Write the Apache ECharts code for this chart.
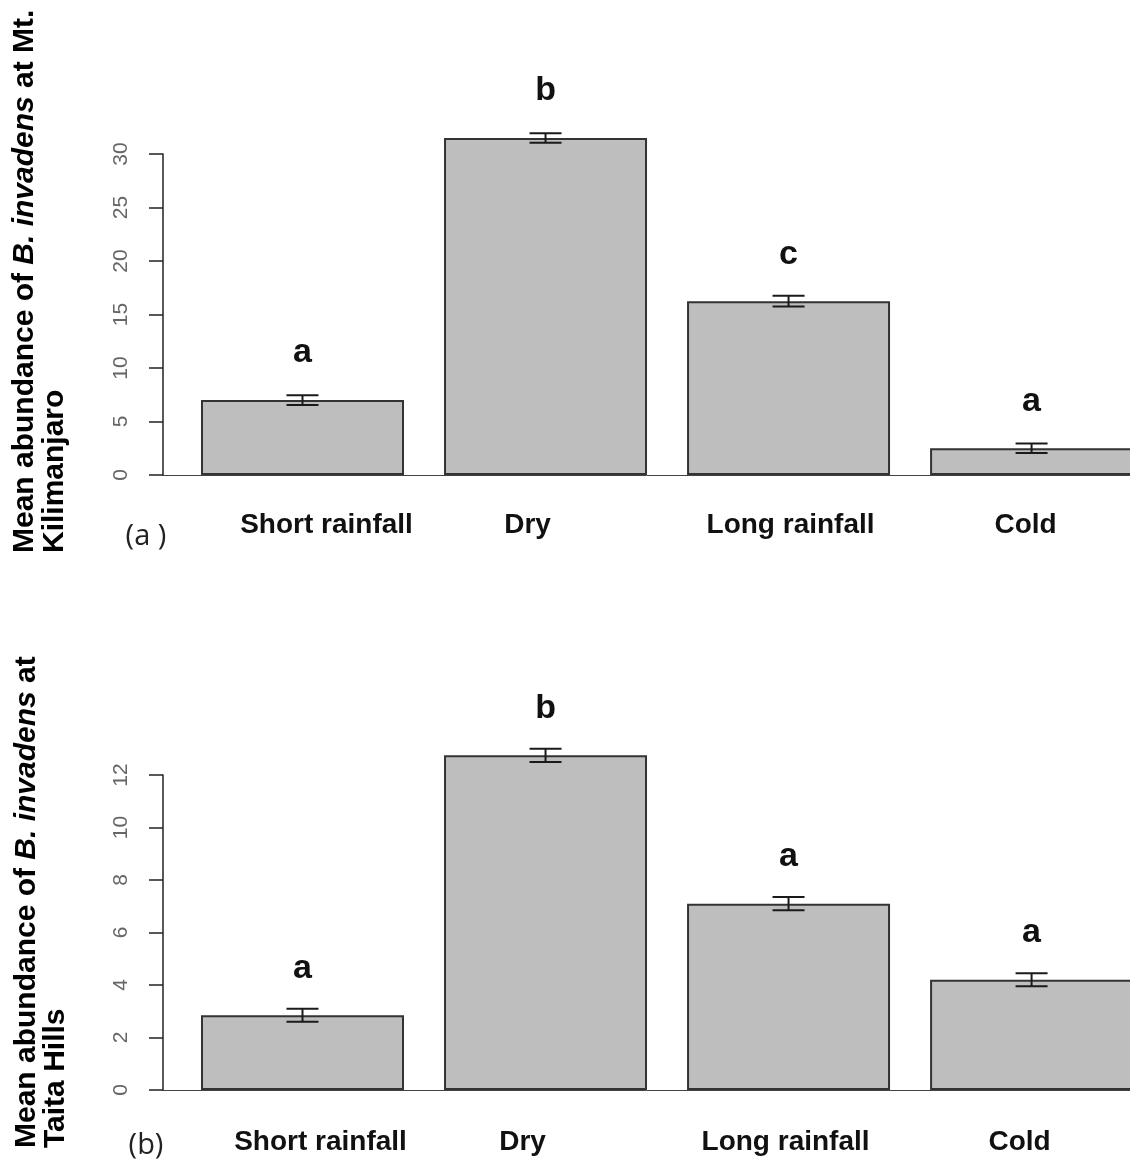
<!DOCTYPE html>
<html>
<head>
<meta charset="utf-8">
<script src="https://cdn.jsdelivr.net/npm/echarts@6/dist/echarts.min.js"></script>
<style>
html,body{margin:0;padding:0;background:#fff;}
#chart{width:1130px;height:1165px;}
</style>
</head>
<body>
<div id="chart"></div>
<script>
// ---- data ----
const categories = ['Short rainfall', 'Dry', 'Long rainfall', 'Cold'];
const categoryPositions = [1, 2, 3, 4];

const meanKili = [7.0, 31.5, 16.25, 2.5];
const errKili = [0.45, 0.45, 0.5, 0.45];
const lettersKili = ['a', 'b', 'c', 'a'];
const kiliMax = 30;
const kiliStep = 5;

const meanTaita = [2.85, 12.75, 7.1, 4.2];
const errTaita = [0.25, 0.25, 0.25, 0.25];
const lettersTaita = ['a', 'b', 'a', 'a'];
const taitaMax = 12;
const taitaStep = 2;

const panelTags = ['(a )', '(b)'];
const yTitleKili = ['Mean abundance of ', 'B. invadens', ' at Mt.', 'Kilimanjaro'];
const yTitleTaita = ['Mean abundance of ', 'B. invadens', ' at', 'Taita Hills'];

// ---- layout / style (pixel nudges of the hand-placed category labels) ----
const labelShiftA = [24, -18, 2, -6];
const labelShiftB = [18, -23, -3, -12];

const FONT = '"Liberation Sans", Arial, sans-serif';

function barSeries(idx, means, letters) {
  return {
    type: 'bar',
    xAxisIndex: idx, yAxisIndex: idx,
    clip: false,
    barWidth: 203,
    data: means.map((v, i) => [categoryPositions[i], v]),
    itemStyle: { color: '#bebebe', borderColor: '#333', borderWidth: 2 },
    label: {
      show: true, position: 'top', distance: 30,
      formatter: p => letters[p.dataIndex],
      fontFamily: FONT, fontWeight: 'bold', fontSize: 34, color: '#111'
    },
    silent: true,
    z: 2
  };
}

function errSeries(idx, means, errs) {
  return {
    type: 'custom',
    xAxisIndex: idx, yAxisIndex: idx,
    silent: true,
    z: 5,
    data: means.map((v, i) => [categoryPositions[i], v - errs[i], v + errs[i]]),
    renderItem: function (params, api) {
      const x = api.value(0);
      const lo = api.coord([x, api.value(1)]);
      const hi = api.coord([x, api.value(2)]);
      const hw = 16;
      const st = { stroke: '#1a1a1a', lineWidth: 2, fill: null };
      return {
        type: 'group',
        children: [
          { type: 'line', shape: { x1: lo[0], y1: lo[1], x2: hi[0], y2: hi[1] }, style: st },
          { type: 'line', shape: { x1: lo[0] - hw, y1: lo[1], x2: lo[0] + hw, y2: lo[1] }, style: st },
          { type: 'line', shape: { x1: hi[0] - hw, y1: hi[1], x2: hi[0] + hw, y2: hi[1] }, style: st }
        ]
      };
    }
  };
}

function xAxisDef(idx, shifts, margin) {
  const rich = {};
  shifts.forEach((s, i) => {
    rich['c' + i] = {
      fontFamily: FONT, fontWeight: 'bold', fontSize: 28, color: '#111',
      padding: s >= 0 ? [0, 0, 0, 2 * s] : [0, -2 * s, 0, 0]
    };
  });
  return {
    type: 'value', gridIndex: idx,
    min: 0.426, max: 4.405,
    axisLine: { show: true, onZero: false, lineStyle: { color: '#444', width: 1 } },
    axisTick: { show: false },
    splitLine: { show: false },
    axisLabel: {
      customValues: categoryPositions,
      formatter: v => {
        const i = Math.round(v) - 1;
        return categories[i] ? '{c' + i + '|' + categories[i] + '}' : '';
      },
      rich: rich,
      margin: margin,
      fontFamily: FONT, fontWeight: 'bold', fontSize: 28, color: '#111'
    }
  };
}

function yAxisDef(idx, max, step) {
  return {
    type: 'value', gridIndex: idx,
    min: 0, max: max, interval: step,
    axisLine: { show: true, lineStyle: { color: '#222', width: 1.5 } },
    axisTick: { show: true, inside: false, length: 14, lineStyle: { color: '#222', width: 1.5 } },
    splitLine: { show: false },
    axisLabel: {
      rotate: 90, margin: 31,
      fontFamily: FONT, fontSize: 21, color: '#666'
    }
  };
}

function titleText(parts, xLine1, xLine2, yStart) {
  const rich = {
    b: { fontFamily: FONT, fontWeight: 'bold', fontSize: 30, fill: '#000' },
    i: { fontFamily: FONT, fontWeight: 'bold', fontStyle: 'italic', fontSize: 30, fill: '#000' }
  };
  return [
    {
      type: 'text', x: xLine1, y: yStart, rotation: Math.PI / 2, silent: true,
      style: {
        text: '{b|' + parts[0] + '}{i|' + parts[1] + '}{b|' + parts[2] + '}',
        rich: rich, align: 'left', verticalAlign: 'middle'
      }
    },
    {
      type: 'text', x: xLine2, y: yStart, rotation: Math.PI / 2, silent: true,
      style: {
        text: '{b|' + parts[3] + '}',
        rich: rich, align: 'left', verticalAlign: 'middle'
      }
    }
  ];
}

const chart = echarts.init(document.getElementById('chart'), null, { renderer: 'canvas' });

const option = {
  backgroundColor: '#ffffff',
  animation: false,
  grid: [
    { left: 163, right: 0, top: 154, height: 321, containLabel: false },
    { left: 163, right: 0, top: 775, height: 315, containLabel: false }
  ],
  xAxis: [xAxisDef(0, labelShiftA, 36), xAxisDef(1, labelShiftB, 38)],
  yAxis: [yAxisDef(0, kiliMax, kiliStep), yAxisDef(1, taitaMax, taitaStep)],
  series: [
    barSeries(0, meanKili, lettersKili),
    errSeries(0, meanKili, errKili),
    barSeries(1, meanTaita, lettersTaita),
    errSeries(1, meanTaita, errTaita)
  ],
  graphic: [].concat(
    titleText(yTitleKili, 25, 55, 553),
    titleText(yTitleTaita, 27, 56, 1148),
    [
      { type: 'text', x: 146, y: 537, silent: true,
        style: { text: panelTags[0], font: '29px "Open Sans", sans-serif', fill: '#222', align: 'center', verticalAlign: 'middle' } },
      { type: 'text', x: 146, y: 1146, silent: true,
        style: { text: panelTags[1], font: '29px "Open Sans", sans-serif', fill: '#222', align: 'center', verticalAlign: 'middle' } }
    ]
  )
};

chart.setOption(option);
</script>
</body>
</html>
